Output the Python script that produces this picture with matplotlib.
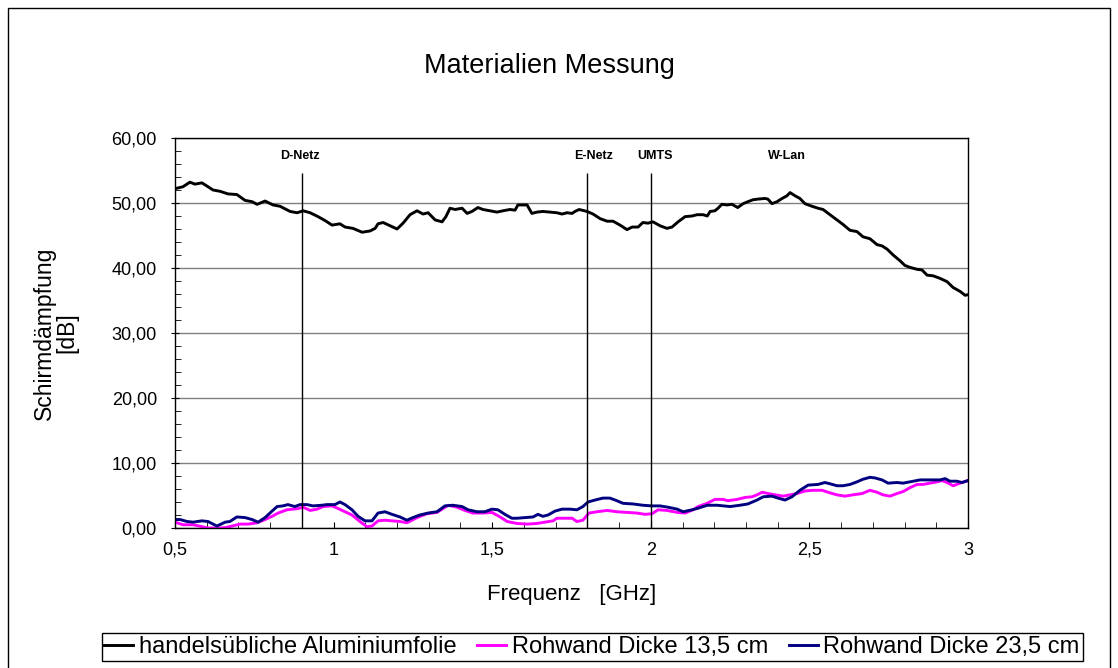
import matplotlib
matplotlib.use("Agg")
from matplotlib import pyplot as plt
from matplotlib.patches import Rectangle
from matplotlib.ticker import MultipleLocator, FuncFormatter

plt.rcParams['font.family'] = ['Liberation Sans', 'DejaVu Sans']

f_alu = [0.500, 0.525, 0.547, 0.563, 0.585, 0.601, 0.620, 0.642, 0.667, 0.695,
         0.721, 0.743, 0.759, 0.784, 0.809, 0.831, 0.863, 0.885, 0.904, 0.926,
         0.951, 0.973, 0.995, 1.020, 1.036, 1.061, 1.090, 1.115, 1.131, 1.140,
         1.156, 1.178, 1.200, 1.219, 1.241, 1.263, 1.282, 1.298, 1.320, 1.342,
         1.354, 1.367, 1.383, 1.405, 1.421, 1.436, 1.455, 1.471, 1.493, 1.515,
         1.534, 1.556, 1.572, 1.581, 1.610, 1.625, 1.641, 1.660, 1.682, 1.704,
         1.720, 1.736, 1.752, 1.761, 1.774, 1.799, 1.818, 1.840, 1.862, 1.881,
         1.903, 1.925, 1.941, 1.960, 1.975, 1.991, 2.007, 2.029, 2.051, 2.067,
         2.086, 2.108, 2.130, 2.146, 2.165, 2.178, 2.187, 2.202, 2.212, 2.224,
         2.240, 2.256, 2.274, 2.291, 2.306, 2.322, 2.338, 2.360, 2.369, 2.382,
         2.398, 2.414, 2.429, 2.439, 2.455, 2.470, 2.486, 2.508, 2.527, 2.543,
         2.565, 2.587, 2.606, 2.628, 2.650, 2.669, 2.691, 2.713, 2.729, 2.745,
         2.764, 2.786, 2.801, 2.817, 2.839, 2.855, 2.871, 2.890, 2.912, 2.934,
         2.953, 2.975, 2.991, 3.000]
db_alu = [52.2, 52.5, 53.2, 52.9, 53.1, 52.6, 52.0, 51.8, 51.4, 51.3,
          50.4, 50.2, 49.8, 50.3, 49.7, 49.5, 48.7, 48.5, 48.8, 48.5,
          47.9, 47.3, 46.6, 46.8, 46.3, 46.1, 45.5, 45.7, 46.1, 46.8,
          47.0, 46.5, 46.0, 46.9, 48.2, 48.8, 48.3, 48.5, 47.4, 47.1,
          47.9, 49.2, 49.0, 49.2, 48.4, 48.7, 49.3, 49.0, 48.8, 48.6,
          48.8, 49.0, 48.9, 49.7, 49.7, 48.4, 48.6, 48.7, 48.6, 48.5,
          48.3, 48.5, 48.4, 48.7, 49.0, 48.7, 48.3, 47.6, 47.2, 47.2,
          46.6, 45.9, 46.3, 46.3, 47.0, 46.9, 47.1, 46.5, 46.1, 46.3,
          47.1, 47.9, 48.0, 48.2, 48.2, 48.0, 48.7, 48.8, 49.2, 49.8,
          49.7, 49.8, 49.3, 49.9, 50.2, 50.5, 50.6, 50.7, 50.6, 49.9,
          50.2, 50.7, 51.1, 51.6, 51.1, 50.7, 49.9, 49.5, 49.2, 49.0,
          48.2, 47.4, 46.7, 45.8, 45.6, 44.8, 44.5, 43.6, 43.4, 42.9,
          42.0, 41.1, 40.4, 40.1, 39.8, 39.7, 38.9, 38.8, 38.4, 37.9,
          37.0, 36.4, 35.8, 35.9]

f_135 = [0.500, 0.525, 0.557, 0.585, 0.604, 0.632, 0.658, 0.680, 0.705, 0.730,
         0.759, 0.784, 0.806, 0.825, 0.853, 0.872, 0.888, 0.904, 0.926, 0.948,
         0.967, 0.995, 1.014, 1.036, 1.058, 1.083, 1.105, 1.121, 1.140, 1.162,
         1.184, 1.209, 1.231, 1.263, 1.294, 1.326, 1.361, 1.389, 1.414, 1.439,
         1.471, 1.499, 1.525, 1.547, 1.578, 1.610, 1.641, 1.666, 1.692, 1.704,
         1.723, 1.752, 1.767, 1.786, 1.805, 1.830, 1.862, 1.893, 1.925, 1.956,
         1.982, 2.004, 2.023, 2.051, 2.083, 2.108, 2.133, 2.149, 2.178, 2.202,
         2.228, 2.243, 2.272, 2.297, 2.319, 2.335, 2.351, 2.370, 2.392, 2.417,
         2.439, 2.461, 2.486, 2.511, 2.540, 2.565, 2.587, 2.612, 2.637, 2.666,
         2.691, 2.713, 2.732, 2.754, 2.776, 2.795, 2.817, 2.839, 2.858, 2.880,
         2.902, 2.918, 2.934, 2.953, 2.975, 3.000]
db_135 = [0.9, 0.5, 0.5, 0.2, 0.0, 0.0, 0.05, 0.3, 0.6, 0.6,
          0.8, 1.3, 1.8, 2.3, 2.8, 2.9, 3.0, 3.2, 2.7, 2.9,
          3.3, 3.4, 3.0, 2.5, 2.0, 1.0, 0.2, 0.3, 1.1, 1.2,
          1.1, 1.0, 0.8, 1.6, 2.2, 2.4, 3.5, 3.2, 2.7, 2.3,
          2.3, 2.4, 1.7, 1.0, 0.7, 0.6, 0.7, 0.9, 1.1, 1.5,
          1.5, 1.5, 1.0, 1.2, 2.3, 2.5, 2.7, 2.5, 2.4, 2.3,
          2.1, 2.2, 2.8, 2.7, 2.4, 2.3, 2.8, 3.3, 3.8, 4.4,
          4.4, 4.2, 4.4, 4.7, 4.8, 5.1, 5.5, 5.3, 5.1, 4.9,
          5.1, 5.3, 5.7, 5.8, 5.8, 5.4, 5.1, 4.9, 5.1, 5.3,
          5.8, 5.5, 5.1, 4.9, 5.3, 5.6, 6.2, 6.7, 6.7, 6.9,
          7.1, 7.3, 7.0, 6.5, 6.9, 7.3]

f_235 = [0.500, 0.516, 0.538, 0.557, 0.585, 0.604, 0.632, 0.658, 0.673, 0.695,
         0.721, 0.743, 0.762, 0.784, 0.806, 0.822, 0.840, 0.856, 0.878, 0.894,
         0.916, 0.935, 0.963, 0.979, 1.004, 1.020, 1.036, 1.058, 1.077, 1.099,
         1.121, 1.140, 1.162, 1.184, 1.209, 1.231, 1.250, 1.272, 1.298, 1.326,
         1.351, 1.376, 1.405, 1.424, 1.452, 1.477, 1.499, 1.518, 1.540, 1.562,
         1.578, 1.603, 1.629, 1.644, 1.660, 1.676, 1.698, 1.720, 1.745, 1.767,
         1.786, 1.802, 1.824, 1.849, 1.871, 1.893, 1.912, 1.944, 1.975, 2.004,
         2.029, 2.054, 2.083, 2.102, 2.130, 2.146, 2.178, 2.209, 2.250, 2.281,
         2.306, 2.335, 2.354, 2.382, 2.401, 2.423, 2.445, 2.470, 2.496, 2.527,
         2.549, 2.565, 2.587, 2.606, 2.628, 2.650, 2.669, 2.691, 2.707, 2.729,
         2.748, 2.776, 2.795, 2.817, 2.849, 2.880, 2.912, 2.928, 2.943, 2.965,
         2.981, 3.000]
db_235 = [1.3, 1.3, 1.0, 0.9, 1.1, 1.0, 0.3, 0.9, 1.0, 1.7,
          1.6, 1.3, 0.9, 1.6, 2.6, 3.3, 3.4, 3.6, 3.3, 3.6,
          3.6, 3.4, 3.5, 3.6, 3.6, 4.0, 3.6, 2.8, 1.8, 1.1,
          1.1, 2.3, 2.5, 2.1, 1.7, 1.2, 1.6, 2.0, 2.3, 2.5,
          3.4, 3.5, 3.3, 2.8, 2.5, 2.5, 2.9, 2.8, 2.1, 1.5,
          1.5, 1.6, 1.7, 2.1, 1.8, 2.0, 2.6, 2.9, 2.9, 2.8,
          3.3, 4.0, 4.3, 4.6, 4.6, 4.2, 3.8, 3.7, 3.5, 3.4,
          3.4, 3.2, 2.9, 2.5, 2.8, 3.0, 3.5, 3.5, 3.3, 3.5,
          3.7, 4.3, 4.8, 4.9, 4.6, 4.3, 4.8, 5.8, 6.6, 6.7,
          7.0, 6.8, 6.5, 6.5, 6.7, 7.1, 7.5, 7.8, 7.7, 7.4,
          6.9, 7.0, 6.9, 7.1, 7.4, 7.4, 7.4, 7.6, 7.2, 7.2,
          7.0, 7.3]

# Frequenzbänder
band_lines = [0.9, 1.8, 2.0]
band_names = ["D-Netz", "E-Netz", "UMTS", "W-Lan"]
band_label_x = [0.895, 1.818, 2.013, 2.43]

series_labels = ["handelsübliche Aluminiumfolie", "Rohwand Dicke 13,5 cm", "Rohwand Dicke 23,5 cm"]

W, H = 1118, 668
fig = plt.figure(figsize=(W / 100, H / 100), dpi=100)
ax = fig.add_axes([175 / W, 1 - 528 / H, (968 - 175) / W, (528 - 138) / H])

l1, = ax.plot(f_alu, db_alu, color="black", lw=2.1, label=series_labels[0])
l2, = ax.plot(f_135, db_135, color="#ff00ff", lw=2.1, label=series_labels[1])
l3, = ax.plot(f_235, db_235, color="#000080", lw=2.1, label=series_labels[2])

ax.vlines(band_lines, 0, 54.6, color="black", lw=1)
for x, name in zip(band_label_x, band_names):
    ax.text(x, 57.3, name, ha="center", va="center", fontsize=9, fontweight="bold")

ax.set_xlim(0.5, 3)
ax.set_ylim(0, 60)
ax.xaxis.set_major_locator(MultipleLocator(0.5))
ax.xaxis.set_minor_locator(MultipleLocator(0.1))
ax.yaxis.set_major_locator(MultipleLocator(10))
ax.yaxis.set_minor_locator(MultipleLocator(2))
ax.xaxis.set_major_formatter(FuncFormatter(lambda v, p: f"{v:g}".replace(".", ",")))
ax.yaxis.set_major_formatter(FuncFormatter(lambda v, p: f"{v:.2f}".replace(".", ",")))
ax.tick_params(axis="x", which="both", direction="in", length=4, labelsize=13, pad=10)
ax.tick_params(axis="y", which="major", direction="inout", length=6, labelsize=13, pad=10)
ax.tick_params(axis="y", which="minor", direction="in", length=4)
ax.grid(axis="y", which="major", color="#808080", lw=1)
ax.set_axisbelow(True)
for s in ax.spines.values():
    s.set_linewidth(1)

ax.set_xlabel("Frequenz   [GHz]", fontsize=16, labelpad=18)
ax.set_ylabel("Schirmdämpfung\n[dB]", fontsize=16.5, labelpad=24, linespacing=0.95)
fig.text(549 / W, 1 - 66 / H, "Materialien Messung", ha="center", va="center", fontsize=19.5)

leg = fig.legend(handles=[l1, l2, l3], loc="center", bbox_to_anchor=(592 / W, 1 - 647 / H),
                 ncol=3, frameon=True, fancybox=False, edgecolor="black", framealpha=1,
                 fontsize=17, handlelength=1.2, handletextpad=0.25, columnspacing=0.9,
                 borderpad=0.12, borderaxespad=0)
leg.get_frame().set_linewidth(1)

fig.add_artist(Rectangle((8 / W, -0.05), (1110 - 8) / W, 1.05 - 8 / H,
                         transform=fig.transFigure, fill=False, lw=1, color="black"))

fig.savefig("out.png", dpi=100)
